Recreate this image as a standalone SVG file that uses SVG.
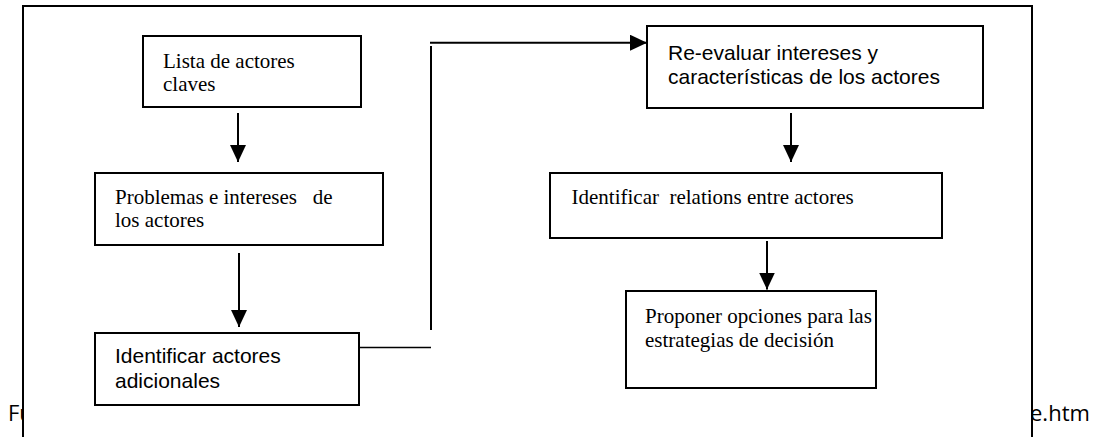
<svg xmlns="http://www.w3.org/2000/svg" width="1094" height="437" viewBox="0 0 1094 437">
<style>
.box{fill:#fff;stroke:#000;stroke-width:2}
.serif{font-family:"Liberation Serif","Times New Roman",serif;font-size:21px;fill:#000}
.sans{font-family:"Liberation Sans",Arial,sans-serif;font-size:21px;fill:#000}
.foot{font-family:"Open Sans","Noto Sans",sans-serif;font-size:22px;fill:#000}
.con{fill:none;stroke:#000;stroke-width:2}
</style>
<defs>
<marker id="ah" markerUnits="userSpaceOnUse" markerWidth="17" markerHeight="16" refX="17" refY="8" orient="auto">
<path d="M0,0 L17,8 L0,16 Z" fill="#000"/>
</marker>
</defs>
<rect width="1094" height="437" fill="#fff"/>
<text class="foot" x="8" y="421">Fu</text>
<text class="foot" x="1030" y="421">e.htm</text>
<rect id="frame" x="23" y="6" width="1009" height="440" fill="#fff" stroke="#000" stroke-width="2"/>

<g id="n1">
<rect class="box" x="143" y="36" width="218" height="71"/>
<text class="serif" x="163" y="67.5">Lista de actores</text>
<text class="serif" x="163" y="91">claves</text>
</g>
<g id="n2">
<rect class="box" x="95" y="173" width="288" height="72"/>
<text class="serif" x="115" y="204" xml:space="preserve">Problemas e intereses   de</text>
<text class="serif" x="115" y="227">los actores</text>
</g>
<g id="n3">
<rect class="box" x="95" y="333" width="264" height="72"/>
<text class="sans" x="115" y="362.5">Identificar actores</text>
<text class="sans" x="115" y="387.5">adicionales</text>
</g>
<g id="n4">
<rect class="box" x="647" y="26" width="336" height="82"/>
<text class="sans" x="668" y="60">Re-evaluar intereses y</text>
<text class="sans" x="668" y="83.5">características de los actores</text>
</g>
<g id="n5">
<rect class="box" x="550" y="173" width="392" height="65"/>
<text class="serif" x="571.5" y="204" xml:space="preserve">Identificar  relations entre actores</text>
</g>
<g id="n6">
<rect class="box" x="626" y="291" width="250" height="97"/>
<text class="serif" x="645" y="322.5">Proponer opciones para las</text>
<text class="serif" x="645" y="346.5">estrategias de decisión</text>
</g>

<g id="connectors">
<line class="con" x1="238" y1="113" x2="238" y2="162" marker-end="url(#ah)"/>
<line class="con" x1="239" y1="253" x2="239" y2="327" marker-end="url(#ah)"/>
<line class="con" x1="791" y1="113" x2="791" y2="162" marker-end="url(#ah)"/>
<line class="con" x1="767" y1="241" x2="767" y2="289.5" marker-end="url(#ah)"/>
<line x1="359" y1="347.5" x2="431" y2="347.5" stroke="#000" stroke-width="1.5"/>
<line class="con" x1="431" y1="330" x2="431" y2="46"/>
<line class="con" x1="430" y1="42.7" x2="647" y2="42.7" marker-end="url(#ah)"/>
</g>
</svg>
